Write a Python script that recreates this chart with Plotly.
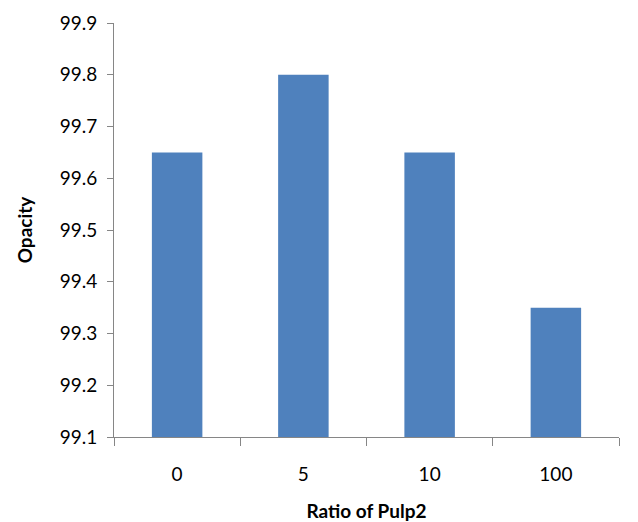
import plotly.graph_objects as go

categories = ["0", "5", "10", "100"]
opacity = [99.65, 99.8, 99.65, 99.35]
axis_base = 99.1
y_ticks = [99.1, 99.2, 99.3, 99.4, 99.5, 99.6, 99.7, 99.8, 99.9]
y_tick_text = ["99.1", "99.2", "99.3", "99.4", "99.5", "99.6", "99.7", "99.8", "99.9"]

FONT = "Lato"

fig = go.Figure(go.Bar(
    x=categories,
    y=[v - axis_base for v in opacity],
    base=axis_base,
    marker=dict(color="#4F81BD", line=dict(width=0)),
    hoverinfo="skip",
))

fig.update_layout(
    width=638, height=522,
    margin=dict(l=114, r=19, t=23, b=85),
    paper_bgcolor="white", plot_bgcolor="white",
    bargap=0.6,
    showlegend=False,
    font=dict(family=FONT, size=19, color="#000000"),
)
fig.update_xaxes(
    type="category",
    automargin=False,
    showline=True, linecolor="#868686", linewidth=1,
    ticks="outside", ticklen=8, tickcolor="#868686", tickson="boundaries",
    ticklabelstandoff=20,
    showgrid=False, zeroline=False,
    title=dict(text="<b>Ratio of Pulp2</b>", font=dict(family=FONT, size=19), standoff=26),
    tickfont=dict(family=FONT, size=19),
)
fig.update_yaxes(
    automargin=False,
    range=[99.1, 99.9],
    tickvals=y_ticks, ticktext=y_tick_text,
    showline=True, linecolor="#868686", linewidth=1,
    ticks="outside", ticklen=6, tickcolor="#868686",
    ticklabelstandoff=6,
    showgrid=False, zeroline=False,
    title=dict(text="<b>Opacity</b>", font=dict(family=FONT, size=19), standoff=22),
    tickfont=dict(family=FONT, size=19),
)

fig.write_html("out.html")
